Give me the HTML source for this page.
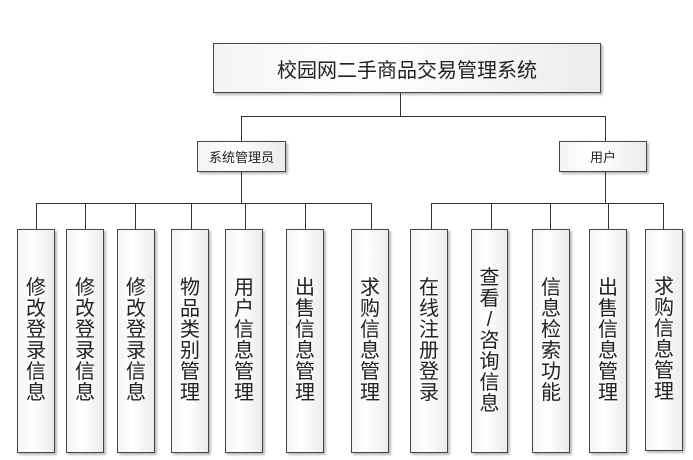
<!DOCTYPE html>
<html><head><meta charset="utf-8"><style>
body{margin:0;width:693px;height:460px;background:#fff;position:relative;overflow:hidden;font-family:"Liberation Sans","Noto Sans CJK SC",sans-serif;}
.b{position:absolute;box-sizing:border-box;border:1px solid #444;background:linear-gradient(to right,#f4f4f4,#fff 40%,#ececec);box-shadow:2px 2px 2px #bbb;display:flex;align-items:center;justify-content:center;color:#222;}
.v{width:38px;top:229px;height:224px;font-size:20px;line-height:21px;text-align:center;}
.v span{display:block;width:20px;}
.l{position:absolute;background:#333;}
</style></head><body>
<div class="b" style="left:213px;top:43px;width:388px;height:50px;font-size:20px;">校园网二手商品交易管理系统</div>
<div class="l" style="left:400px;top:93px;width:1px;height:23px"></div>
<div class="l" style="left:241px;top:116px;width:365px;height:1px"></div>
<div class="l" style="left:241px;top:116px;width:1px;height:25px"></div>
<div class="l" style="left:605px;top:116px;width:1px;height:25px"></div>
<div class="b" style="left:197px;top:141px;width:89px;height:31px;font-size:13px;">系统管理员</div>
<div class="b" style="left:559px;top:141px;width:88px;height:31px;font-size:13px;">用户</div>
<div class="l" style="left:241px;top:172px;width:1px;height:31px"></div>
<div class="l" style="left:605px;top:172px;width:1px;height:31px"></div>
<div class="l" style="left:36px;top:203px;width:335px;height:1px"></div>
<div class="l" style="left:431px;top:203px;width:232px;height:1px"></div>
<div class="l" style="left:36px;top:203px;width:1px;height:26px"></div>
<div class="l" style="left:85px;top:203px;width:1px;height:26px"></div>
<div class="l" style="left:135px;top:203px;width:1px;height:26px"></div>
<div class="l" style="left:191px;top:203px;width:1px;height:26px"></div>
<div class="l" style="left:245px;top:203px;width:1px;height:26px"></div>
<div class="l" style="left:305px;top:203px;width:1px;height:26px"></div>
<div class="l" style="left:371px;top:203px;width:1px;height:26px"></div>
<div class="l" style="left:431px;top:203px;width:1px;height:26px"></div>
<div class="l" style="left:491px;top:203px;width:1px;height:26px"></div>
<div class="l" style="left:550px;top:203px;width:1px;height:26px"></div>
<div class="l" style="left:608px;top:203px;width:1px;height:26px"></div>
<div class="l" style="left:663px;top:203px;width:1px;height:26px"></div>
<div class="b v" style="left:17px"><div><span>修</span><span>改</span><span>登</span><span>录</span><span>信</span><span>息</span></div></div>
<div class="b v" style="left:66px"><div><span>修</span><span>改</span><span>登</span><span>录</span><span>信</span><span>息</span></div></div>
<div class="b v" style="left:117px"><div><span>修</span><span>改</span><span>登</span><span>录</span><span>信</span><span>息</span></div></div>
<div class="b v" style="left:171px"><div><span>物</span><span>品</span><span>类</span><span>别</span><span>管</span><span>理</span></div></div>
<div class="b v" style="left:225px"><div><span>用</span><span>户</span><span>信</span><span>息</span><span>管</span><span>理</span></div></div>
<div class="b v" style="left:286px"><div><span>出</span><span>售</span><span>信</span><span>息</span><span>管</span><span>理</span></div></div>
<div class="b v" style="left:351px"><div><span>求</span><span>购</span><span>信</span><span>息</span><span>管</span><span>理</span></div></div>
<div class="b v" style="left:410px"><div><span>在</span><span>线</span><span>注</span><span>册</span><span>登</span><span>录</span></div></div>
<div class="b v" style="left:471px;width:37px"><div><span>查</span><span>看</span><span>/</span><span>咨</span><span>询</span><span>信</span><span>息</span></div></div>
<div class="b v" style="left:532px"><div><span>信</span><span>息</span><span>检</span><span>索</span><span>功</span><span>能</span></div></div>
<div class="b v" style="left:589px"><div><span>出</span><span>售</span><span>信</span><span>息</span><span>管</span><span>理</span></div></div>
<div class="b v" style="left:645px;height:222px"><div><span>求</span><span>购</span><span>信</span><span>息</span><span>管</span><span>理</span></div></div>
</body></html>
